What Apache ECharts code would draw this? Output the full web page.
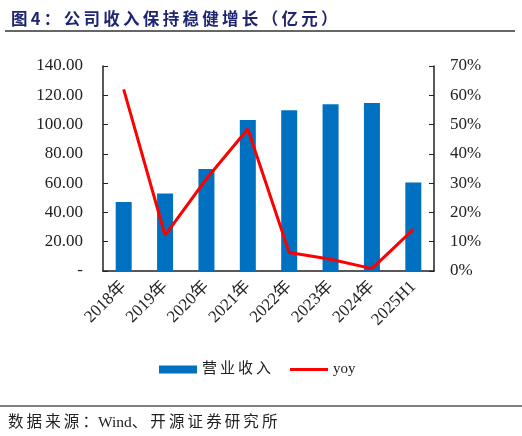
<!DOCTYPE html>
<html>
<head>
<meta charset="utf-8">
<script src="https://cdn.jsdelivr.net/npm/echarts@6/dist/echarts.min.js"></script>
<style>
  html, body { margin: 0; padding: 0; background: #fff; }
  #main { width: 522px; height: 436px; }
</style>
</head>
<body>
<div id="main"></div>
<script>
var categories = ['2018年', '2019年', '2020年', '2021年', '2022年', '2023年', '2024年', '2025H1'];
var revenue = [47.2, 52.9, 69.6, 103.1, 109.7, 113.8, 114.7, 60.5];
var yoy = [62.0, 12.2, 31.5, 48.5, 6.3, 4.0, 0.8, 14.2];

var serif = '"Liberation Serif", "Noto Sans CJK SC", serif';

// spread CJK text a little, like the original report typesetting
var spaced = function (s, sp) {
	return s.split('').join(sp || '\u2009');
};

var myChart = echarts.init(document.getElementById('main'));

var option = {
	backgroundColor: '#fff',
	animation: false,
	title: {
		text: spaced('图4：公司收入保持稳健增长（亿元）'),
		left: 6,
		top: 5,
		textStyle: {
			fontSize: 16.5,
			fontWeight: 'bold',
			color: '#1f2470',
			fontFamily: '"Noto Sans CJK SC", sans-serif'
		}
	},
	graphic: [
		{ type: 'line', shape: { x1: 5, y1: 31, x2: 515, y2: 31 }, style: { stroke: '#666', lineWidth: 2 } },
		{ type: 'line', shape: { x1: 0, y1: 406, x2: 522, y2: 406 }, style: { stroke: '#555', lineWidth: 1.5 } },
		{
			type: 'text', left: 8, top: 415,
			style: {
				text: spaced('数据来源：') + 'Wind' + spaced('、开源证券研究所'),
				fill: '#222',
				font: '15.5px "Liberation Serif", "Noto Sans CJK SC", serif'
			}
		}
	],
	legend: {
		left: 154,
		top: 357,
		itemGap: 19,
		itemHeight: 8,
		itemWidth: 38,
		textStyle: { fontSize: 15, color: '#222', fontFamily: serif },
		formatter: function (name) { return name === 'yoy' ? name : spaced(name); },
		data: [
			{ name: '营业收入', icon: 'rect' },
			{ name: 'yoy', icon: 'path://M0,0L38,0L38,3L0,3Z' }
		]
	},
	grid: { left: 103, right: 88, top: 66, bottom: 165 },
	xAxis: {
		type: 'category',
		data: categories,
		boundaryGap: true,
		axisLine: { lineStyle: { color: '#222', width: 1.5 } },
		axisTick: { inside: true, length: 6, lineStyle: { color: '#222' } },
		axisLabel: {
			rotate: 45,
			color: '#222',
			fontSize: 17,
			fontFamily: serif,
			margin: 13
		}
	},
	yAxis: [
		{
			type: 'value',
			min: 0, max: 140, interval: 20,
			splitLine: { show: false },
			axisLine: { show: true, lineStyle: { color: '#222', width: 1.5 } },
			axisTick: { show: true, inside: true, length: 5, lineStyle: { color: '#222' } },
			axisLabel: {
				color: '#222', fontSize: 17, fontFamily: serif, margin: 20,
				formatter: function (v) { return v === 0 ? '-' : v.toFixed(2); }
			}
		},
		{
			type: 'value',
			min: 0, max: 70, interval: 10,
			splitLine: { show: false },
			axisLine: { show: true, lineStyle: { color: '#222', width: 1.5 } },
			axisTick: { show: true, inside: true, length: 5, lineStyle: { color: '#222' } },
			axisLabel: {
				color: '#222', fontSize: 17, fontFamily: serif, margin: 16,
				formatter: '{value}%'
			}
		}
	],
	series: [
		{
			name: '营业收入',
			type: 'bar',
			data: revenue,
			barWidth: 16,
			itemStyle: { color: '#0070c0' }
		},
		{
			name: 'yoy',
			type: 'line',
			yAxisIndex: 1,
			data: yoy,
			symbol: 'none',
			lineStyle: { color: '#ff0000', width: 3 },
			itemStyle: { color: '#ff0000' }
		}
	]
};

myChart.setOption(option, true);
</script>
</body>
</html>
